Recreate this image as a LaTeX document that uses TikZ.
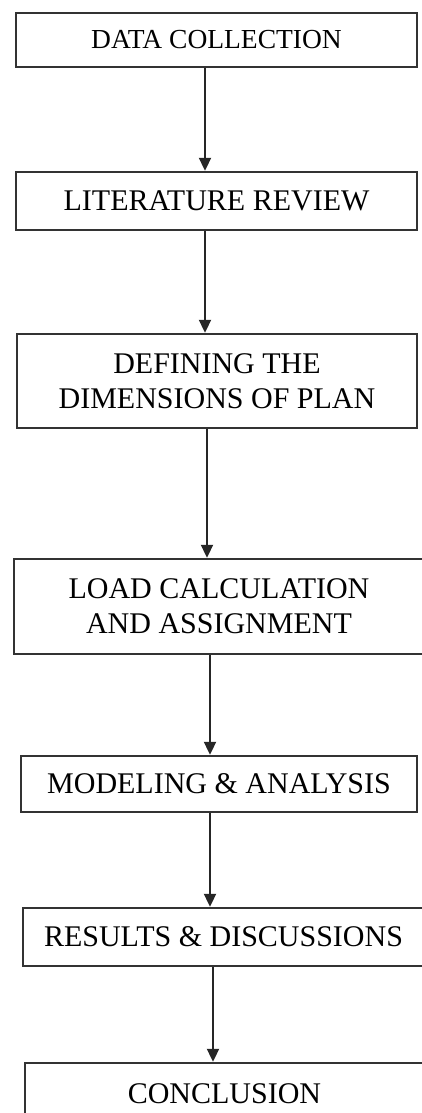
\documentclass[tikz,border=0pt]{standalone}
\usepackage{fontspec}
\setmainfont{Liberation Serif}
\usetikzlibrary{arrows.meta}

\tikzset{
    stage/.style={draw=black!80, line width=2.4pt, inner sep=0pt, align=center,
        font=\fontsize{30}{35}\selectfont},
    flow/.style={draw=black!85, line width=2pt, -{Triangle[length=13pt,width=12pt]}}
}

\begin{document}
\begin{tikzpicture}[x=1pt, y=-1pt]
    % Frame of the page
    \useasboundingbox (0,0) rectangle (422,1113);
    \clip (0,0) rectangle (422,1113);

    % Stages of the work, top to bottom
    \node[stage, minimum width=401pt, minimum height=54pt,
          font=\fontsize{27.5}{32}\selectfont] (dc) at (216.5,40) {DATA COLLECTION};
    \node[stage, minimum width=401pt, minimum height=58pt] (lr) at (216.5,201) {LITERATURE REVIEW};
    \node[stage, minimum width=400pt, minimum height=94pt] (dim) at (217,381) {DEFINING THE\\DIMENSIONS OF PLAN};
    \node[stage, minimum width=410pt, minimum height=95pt] (load) at (219,606.5) {LOAD CALCULATION\\AND ASSIGNMENT};
    \node[stage, minimum width=396pt, minimum height=56pt] (model) at (219,784) {MODELING \& ANALYSIS};
    \node[stage, minimum width=401pt, minimum height=58pt] (res) at (223.5,937) {RESULTS \& DISCUSSIONS};
    \node[stage, minimum width=399pt, minimum height=62pt] (conc) at (224.5,1094) {CONCLUSION};

    % Arrows between the stages
    \draw[flow] ([xshift=-11.5pt]dc.south) -- ([xshift=-11.5pt]dc.south |- lr.north);
    \draw[flow] ([xshift=-11.5pt]lr.south) -- ([xshift=-11.5pt]lr.south |- dim.north);
    \draw[flow] ([xshift=-10pt]dim.south) -- ([xshift=-10pt]dim.south |- load.north);
    \draw[flow] ([xshift=-9pt]load.south) -- ([xshift=-9pt]load.south |- model.north);
    \draw[flow] ([xshift=-9pt]model.south) -- ([xshift=-9pt]model.south |- res.north);
    \draw[flow] ([xshift=-10.5pt]res.south) -- ([xshift=-10.5pt]res.south |- conc.north);

\end{tikzpicture}
\end{document}
